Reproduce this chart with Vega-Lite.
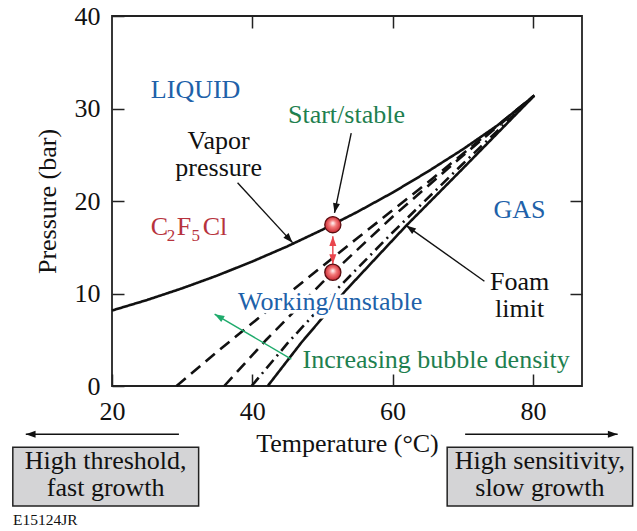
{
  "$schema": "https://vega.github.io/schema/vega-lite/v6.json",
  "width": 470,
  "height": 370,
  "autosize": "none",
  "padding": {"left": 112, "top": 16, "right": 55, "bottom": 145},
  "background": "white",
  "config": {
    "view": {"stroke": "#222222", "strokeWidth": 1.8},
    "font": "Liberation Serif",
    "axis": {
      "domain": false, "grid": false, "tickColor": "#222222", "tickWidth": 1.5,
      "tickSize": -12, "labelPadding": 24, "labelFont": "Liberation Serif", "labelFontSize": 26,
      "labelColor": "#111111", "titleFont": "Liberation Serif", "titleFontSize": 26,
      "titleFontWeight": "normal", "titleColor": "#111111", "labelFlush": false, "labelOverlap": false
    }
  },
  "datasets": {
    "curves": [
      {"curve": "vapor", "T": 20, "P": 8.16}, {"curve": "vapor", "T": 25, "P": 9.3}, {"curve": "vapor", "T": 30, "P": 10.56},
      {"curve": "vapor", "T": 35, "P": 11.94}, {"curve": "vapor", "T": 40, "P": 13.46}, {"curve": "vapor", "T": 45, "P": 15.1},
      {"curve": "vapor", "T": 50, "P": 16.9}, {"curve": "vapor", "T": 55, "P": 18.83}, {"curve": "vapor", "T": 60, "P": 20.91},
      {"curve": "vapor", "T": 65, "P": 23.17}, {"curve": "vapor", "T": 70, "P": 25.58}, {"curve": "vapor", "T": 75, "P": 28.2},
      {"curve": "vapor", "T": 80.2, "P": 31.4},
      {"curve": "d1", "T": 29.2, "P": 0}, {"curve": "d1", "T": 35, "P": 3.7}, {"curve": "d1", "T": 45, "P": 9.9},
      {"curve": "d1", "T": 55, "P": 16.0}, {"curve": "d1", "T": 65, "P": 22.0}, {"curve": "d1", "T": 80.2, "P": 31.4},
      {"curve": "d2", "T": 36.0, "P": 0}, {"curve": "d2", "T": 42, "P": 5.0}, {"curve": "d2", "T": 50, "P": 11.2},
      {"curve": "d2", "T": 60, "P": 18.3}, {"curve": "d2", "T": 70, "P": 24.9}, {"curve": "d2", "T": 80.2, "P": 31.4},
      {"curve": "d3", "T": 39.9, "P": 0}, {"curve": "d3", "T": 45, "P": 4.6}, {"curve": "d3", "T": 52, "P": 10.4},
      {"curve": "d3", "T": 60, "P": 16.6}, {"curve": "d3", "T": 70, "P": 24.0}, {"curve": "d3", "T": 80.2, "P": 31.4},
      {"curve": "foam", "T": 42.2, "P": 0}, {"curve": "foam", "T": 47, "P": 4.7}, {"curve": "foam", "T": 53.4, "P": 10.4},
      {"curve": "foam", "T": 61.9, "P": 17.3}, {"curve": "foam", "T": 70, "P": 23.5}, {"curve": "foam", "T": 80.2, "P": 31.4}
    ],
    "labels": [
      {"text": "LIQUID", "role": "phase", "T": 31.92, "P": 31.11},
      {"text": "GAS", "role": "phase", "T": 78.1, "P": 18.2},
      {"text": "Working/unstable", "role": "phase", "T": 51.11, "P": 8.27},
      {"text": "Start/stable", "role": "state", "T": 53.42, "P": 28.43},
      {"text": "Increasing bubble density", "role": "state", "T": 66.21, "P": 1.98},
      {"text": "Vapor\npressure", "role": "note", "T": 35.2, "P": 25.64},
      {"text": "Foam\nlimit", "role": "note", "T": 78.1, "P": 10.43},
      {"text": "High threshold,\nfast growth", "role": "box", "T": 19.1, "P": -8.99},
      {"text": "High sensitivity,\nslow growth", "role": "box", "T": 81.0, "P": -8.99}
    ],
    "formula": [
      {"text": "C", "T": 25.51, "P": 16.36},
      {"text": "F", "T": 29.22, "P": 16.36},
      {"text": "Cl", "T": 32.92, "P": 16.36}
    ],
    "formulaSub": [
      {"text": "2", "T": 27.79, "P": 15.72},
      {"text": "5", "T": 31.35, "P": 15.72}
    ],
    "arrows": [
      {"arrow": "vapor", "role": "note", "T": 37.9, "P": 21.97, "T2": 45.74, "P2": 15.5, "angle": 137.5},
      {"arrow": "start", "role": "note", "T": 54.1, "P": 27.34, "T2": 51.72, "P2": 18.71, "angle": 191.8},
      {"arrow": "foam", "role": "note", "T": 73.09, "P": 11.33, "T2": 61.94, "P2": 17.34, "angle": 305.4},
      {"arrow": "bubbles", "role": "trend", "T": 45.56, "P": 2.91, "T2": 34.63, "P2": 7.77, "angle": 300.4},
      {"arrow": "gap-up", "role": "gap", "T": 51.48, "P": 14.6, "T2": 51.48, "P2": 16.2, "angle": 0},
      {"arrow": "gap-down", "role": "gap", "T": 51.48, "P": 14.6, "T2": 51.48, "P2": 13.2, "angle": 180},
      {"arrow": "left", "role": "note", "T": 29.54, "P": -5.21, "T2": 7.71, "P2": -5.21, "angle": 270},
      {"arrow": "right", "role": "note", "T": 70.34, "P": -5.21, "T2": 92.08, "P2": -5.21, "angle": 90}
    ],
    "boxes": [
      {"box": "left", "T": 5.86, "T2": 32.35, "P": -6.61, "P2": -12.98},
      {"box": "right", "T": 67.78, "T2": 94.22, "P": -6.61, "P2": -12.98}
    ],
    "points": [
      {"point": "start", "T": 51.48, "P": 17.44},
      {"point": "working", "T": 51.48, "P": 12.3}
    ],
    "credit": [
      {"text": "E15124JR", "T": 5.9, "P": -15.03}
    ]
  },
  "resolve": {"axis": {"x": "independent", "y": "independent"}},
  "layer": [
    {
      "data": {"name": "boxes"},
      "mark": {"type": "rect", "fill": "#d4d4d6", "stroke": "#222222", "strokeWidth": 1.5},
      "encoding": {
        "x": {"field": "T", "type": "quantitative", "scale": {"domain": [20, 87], "nice": false, "zero": false},
              "axis": {"values": [20, 40, 60, 80], "title": "Temperature (°C)", "titlePadding": 6, "orient": "bottom"}},
        "x2": {"field": "T2"},
        "y": {"field": "P", "type": "quantitative", "scale": {"domain": [0, 40], "nice": false, "zero": false},
              "axis": {"values": [0, 10, 20, 30, 40], "title": "Pressure (bar)", "titlePadding": 14, "orient": "left"}},
        "y2": {"field": "P2"}
      }
    },
    {
      "data": {"name": "curves"},
      "mark": {"type": "line", "strokeWidth": 2.6, "color": "#111111"},
      "encoding": {
        "x": {"field": "T", "type": "quantitative", "axis": {"orient": "top", "values": [40, 60, 80], "labels": false, "title": null}},
        "y": {"field": "P", "type": "quantitative", "axis": {"orient": "right", "values": [10, 20, 30], "labels": false, "title": null}},
        "detail": {"field": "curve"},
        "strokeDash": {"field": "curve", "type": "nominal", "legend": null,
          "scale": {"domain": ["vapor", "d1", "d2", "d3", "foam"], "range": [[1, 0], [12, 7], [12, 7], [11, 5, 2, 5], [1, 0]]}}
      }
    },
    {
      "data": {"name": "labels"},
      "transform": [{"filter": "datum.role == 'phase' || datum.role == 'state'"}],
      "mark": {"type": "text", "fontSize": 26, "font": "Liberation Serif", "align": "center", "baseline": "alphabetic",
        "color": "white", "stroke": "white", "strokeWidth": 7, "strokeJoin": "round"},
      "encoding": {
        "x": {"field": "T", "type": "quantitative", "axis": null},
        "y": {"field": "P", "type": "quantitative", "axis": null},
        "text": {"field": "text"}
      }
    },
    {
      "data": {"name": "arrows"},
      "mark": {"type": "rule", "strokeWidth": 1.4},
      "encoding": {
        "x": {"field": "T", "type": "quantitative", "axis": null},
        "y": {"field": "P", "type": "quantitative", "axis": null},
        "x2": {"field": "T2"},
        "y2": {"field": "P2"},
        "color": {"field": "role", "type": "nominal", "legend": null,
          "scale": {"domain": ["note", "trend", "gap", "phase", "state", "box"], "range": ["#111111", "#1fab6c", "#e9454c", "#2061a9", "#1e7f4f", "#111111"]}}
      }
    },
    {
      "data": {"name": "arrows"},
      "mark": {"type": "point", "shape": "M0,0L-0.36,1L0.36,1Z", "filled": true, "size": 380, "opacity": 1},
      "encoding": {
        "x": {"field": "T2", "type": "quantitative", "axis": null},
        "y": {"field": "P2", "type": "quantitative", "axis": null},
        "angle": {"field": "angle", "type": "quantitative", "scale": null},
        "color": {"field": "role", "type": "nominal", "legend": null,
          "scale": {"domain": ["note", "trend", "gap", "phase", "state", "box"], "range": ["#111111", "#1fab6c", "#e9454c", "#2061a9", "#1e7f4f", "#111111"]}}
      }
    },
    {
      "data": {"name": "points"},
      "mark": {"type": "point", "shape": "circle", "size": 260, "filled": true, "opacity": 1,
        "fill": {"gradient": "radial", "x1": 0.5, "y1": 0.4, "r1": 0, "x2": 0.5, "y2": 0.5, "r2": 0.55,
          "stops": [{"offset": 0, "color": "#ffffff"}, {"offset": 0.4, "color": "#f47a7a"}, {"offset": 1, "color": "#c41f2a"}]},
        "stroke": "#5a0d10", "strokeWidth": 1.3},
      "encoding": {
        "x": {"field": "T", "type": "quantitative", "axis": null},
        "y": {"field": "P", "type": "quantitative", "axis": null}
      }
    },
    {
      "data": {"name": "labels"},
      "mark": {"type": "text", "fontSize": 26, "font": "Liberation Serif", "align": "center", "baseline": "alphabetic", "lineBreak": "\n", "lineHeight": 27},
      "encoding": {
        "x": {"field": "T", "type": "quantitative", "axis": null},
        "y": {"field": "P", "type": "quantitative", "axis": null},
        "text": {"field": "text"},
        "color": {"field": "role", "type": "nominal", "legend": null,
          "scale": {"domain": ["note", "trend", "gap", "phase", "state", "box"], "range": ["#111111", "#1fab6c", "#e9454c", "#2061a9", "#1e7f4f", "#111111"]}}
      }
    },
    {
      "data": {"name": "formula"},
      "mark": {"type": "text", "fontSize": 26, "font": "Liberation Serif", "align": "left", "baseline": "alphabetic", "color": "#b7333d"},
      "encoding": {
        "x": {"field": "T", "type": "quantitative", "axis": null},
        "y": {"field": "P", "type": "quantitative", "axis": null},
        "text": {"field": "text"}
      }
    },
    {
      "data": {"name": "formulaSub"},
      "mark": {"type": "text", "fontSize": 17, "font": "Liberation Serif", "align": "left", "baseline": "alphabetic", "color": "#b7333d"},
      "encoding": {
        "x": {"field": "T", "type": "quantitative", "axis": null},
        "y": {"field": "P", "type": "quantitative", "axis": null},
        "text": {"field": "text"}
      }
    },
    {
      "data": {"name": "credit"},
      "mark": {"type": "text", "fontSize": 15.5, "font": "Liberation Serif", "align": "left", "baseline": "alphabetic", "color": "#111111"},
      "encoding": {
        "x": {"field": "T", "type": "quantitative", "axis": null},
        "y": {"field": "P", "type": "quantitative", "axis": null},
        "text": {"field": "text"}
      }
    }
  ]
}
